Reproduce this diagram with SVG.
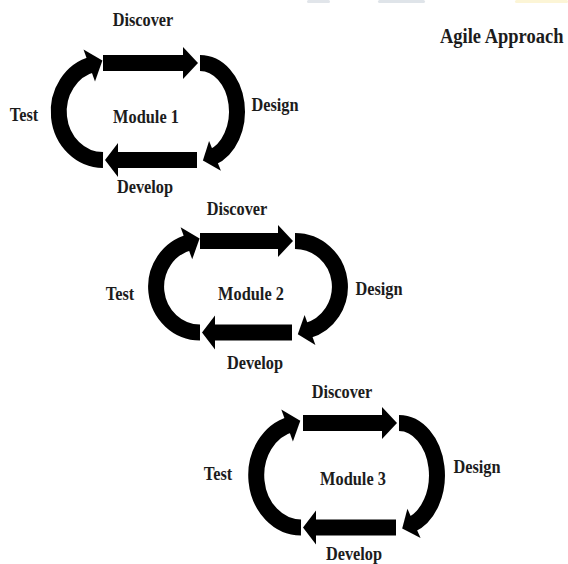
<svg xmlns="http://www.w3.org/2000/svg" width="568" height="564" viewBox="0 0 568 564">
<style>
.lbl{font-family:"Liberation Serif","Times New Roman",serif;font-weight:bold;font-size:19px;fill:#1c1c1c;text-anchor:middle}
.title{font-family:"Liberation Serif","Times New Roman",serif;font-weight:bold;font-size:21.5px;fill:#1c1c1c}
.arc{fill:none;stroke:#000;stroke-width:16;stroke-linecap:butt}
.head{fill:#000}
</style>
<rect width="568" height="564" fill="#fff"/>
<g id="smudges">
<rect x="307" y="0" width="23" height="3" rx="1.5" fill="#e1e5ea"/>
<rect x="378" y="0" width="47" height="3" rx="1.5" fill="#dfe4e9"/>
<rect x="515" y="0" width="53" height="3" rx="1.5" fill="#fcf5d6"/>
</g>
<g id="connectors">
<g id="cycle1">
<polygon class="head" points="103,55 183,55 183,47 198,63 183,79 183,71 103,71"/>
<path class="arc" d="M200,63 A37,48.5 0 0 1 211.99,157.38"/>
<polygon class="head" points="202.9,160.6 220.9,170.7 209.1,140.9"/>
<polygon class="head" points="197,152 118,152 118,143 105,160 118,177 118,168 197,168"/>
<path class="arc" d="M103,160 A44.5,48.5 0 0 1 93,64.3"/>
<polygon class="head" points="102.4,60.6 95,81.4 83.5,49.4"/>
</g>
<g id="cycle2">
<polygon class="head" points="200,233 278,233 278,225 293,241 278,257 278,249 200,249"/>
<path class="arc" d="M295,241 A45,45.75 0 0 1 306.7,330.9"/>
<polygon class="head" points="297.8,334.3 315.4,344.9 304.6,314.9"/>
<polygon class="head" points="292,324.5 215,324.5 215,315.5 202,332.5 215,349.5 215,340.5 292,340.5"/>
<path class="arc" d="M200,332.5 A44,45.75 0 0 1 190.1,242.2"/>
<polygon class="head" points="199.6,238.5 192.2,259.3 180.6,227.3"/>
</g>
<g id="cycle3">
<polygon class="head" points="303,415 382,415 382,407 397,423 382,439 382,431 303,431"/>
<path class="arc" d="M399,423 A38,52.25 0 0 1 411,524.8"/>
<polygon class="head" points="402.2,528.6 420.6,537.9 407.4,508.7"/>
<polygon class="head" points="396,519.5 316,519.5 316,510.5 303,527.5 316,544.5 316,535.5 396,535.5"/>
<path class="arc" d="M301,527.5 A45,52.25 0 0 1 290.9,424.4"/>
<polygon class="head" points="300.3,420.8 292.9,441.6 281.3,409.6"/>
</g>
</g>
<g id="title"><text class="title" transform="translate(440,43) scale(0.86,1)">Agile Approach</text></g>
<g id="m1-discover"><text class="lbl" transform="translate(143,26) scale(0.86,1)">Discover</text></g>
<g id="m1-module"><text class="lbl" transform="translate(146,123) scale(0.86,1)">Module 1</text></g>
<g id="m1-test"><text class="lbl" transform="translate(24,121) scale(0.86,1)">Test</text></g>
<g id="m1-design"><text class="lbl" transform="translate(275,111) scale(0.86,1)">Design</text></g>
<g id="m1-develop"><text class="lbl" transform="translate(145,193) scale(0.86,1)">Develop</text></g>
<g id="m2-discover"><text class="lbl" transform="translate(237,215) scale(0.86,1)">Discover</text></g>
<g id="m2-module"><text class="lbl" transform="translate(251,300) scale(0.86,1)">Module 2</text></g>
<g id="m2-test"><text class="lbl" transform="translate(120,300) scale(0.86,1)">Test</text></g>
<g id="m2-design"><text class="lbl" transform="translate(379,295) scale(0.86,1)">Design</text></g>
<g id="m2-develop"><text class="lbl" transform="translate(255,369) scale(0.86,1)">Develop</text></g>
<g id="m3-discover"><text class="lbl" transform="translate(342,398) scale(0.86,1)">Discover</text></g>
<g id="m3-module"><text class="lbl" transform="translate(353,485) scale(0.86,1)">Module 3</text></g>
<g id="m3-test"><text class="lbl" transform="translate(218,480) scale(0.86,1)">Test</text></g>
<g id="m3-design"><text class="lbl" transform="translate(477,473) scale(0.86,1)">Design</text></g>
<g id="m3-develop"><text class="lbl" transform="translate(354,560) scale(0.86,1)">Develop</text></g>
</svg>
